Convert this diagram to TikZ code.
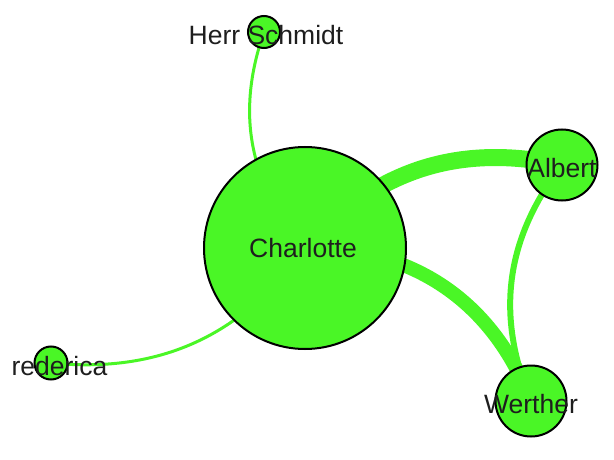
\documentclass[tikz,border=0pt]{standalone}
\usepackage{fontspec}
\setmainfont{Liberation Sans}
\usetikzlibrary{backgrounds}
\definecolor{nodegreen}{RGB}{74,246,38}
\definecolor{labelgray}{RGB}{30,30,30}
\begin{document}
\begin{tikzpicture}[x=1pt,y=-1pt]
	\tikzset{vertex/.style = {shape=circle, draw=black, line width=2pt, fill=nodegreen, inner sep=0pt}}
	\tikzset{lbl/.style = {text=labelgray, font=\fontsize{26.5}{30}\selectfont, inner sep=0pt, yshift=-3pt}}
	\tikzset{edge/.style = {draw=nodegreen}}

	\useasboundingbox (0,0) rectangle (614,460);

	\node[vertex, minimum size=202pt, label={[lbl,xshift=-2pt,yshift=3pt]center:Charlotte}] (ch) at (305,248) {};
	\node[vertex, minimum size=32pt, label={[lbl,xshift=2pt]center:Herr Schmidt}] (hs) at (264,32) {};
	\node[vertex, minimum size=71pt, label={[lbl]center:Albert}] (al) at (562,165) {};
	\node[vertex, minimum size=71pt, label={[lbl]center:Werther}] (we) at (531,401) {};
	\node[vertex, minimum size=33pt, label={[lbl,xshift=8.5pt]center:rederica}] (fr) at (51,363) {};

	\begin{pgfonlayer}{background}
		\draw[edge, line width=17pt] (ch.center) to[bend left=30] (al.center);
		\draw[edge, line width=14pt] (ch.center) to[bend left=35] (we.center);
		\draw[edge, line width=6pt] (al.center) to[bend right=30] (we.center);
		\draw[edge, line width=3pt] (hs.center) to[bend right=30] (ch.center);
		\draw[edge, line width=3pt] (fr.center) to[bend right=30] (ch.center);
	\end{pgfonlayer}

\end{tikzpicture}
\end{document}
